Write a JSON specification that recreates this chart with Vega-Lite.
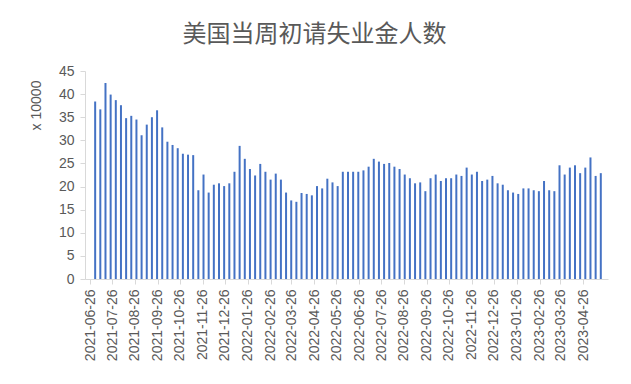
{
  "$schema": "https://vega.github.io/schema/vega-lite/v6.json",
  "width": 523,
  "height": 208,
  "autosize": {"type": "none"},
  "padding": {"left": 85, "top": 71, "right": 23, "bottom": 105},
  "background": "white",
  "title": {
    "text": "美国当周初请失业金人数",
    "font": "Noto Sans CJK SC",
    "fontSize": 24,
    "fontWeight": "normal",
    "color": "#595959",
    "anchor": "middle",
    "frame": "group",
    "baseline": "bottom",
    "dx": -32,
    "offset": -7
  },
  "config": {
    "view": {"stroke": null},
    "axis": {
      "labelFont": "Liberation Sans",
      "titleFont": "Liberation Sans",
      "labelColor": "#595959",
      "titleColor": "#595959",
      "domainColor": "#d9d9d9",
      "tickColor": "#d9d9d9",
      "grid": false
    }
  },
  "data": {
    "values": [
      {"week": "2021-07-03", "claims": 38.4},
      {"week": "2021-07-10", "claims": 36.7},
      {"week": "2021-07-17", "claims": 42.4},
      {"week": "2021-07-24", "claims": 39.9},
      {"week": "2021-07-31", "claims": 38.7},
      {"week": "2021-08-07", "claims": 37.6},
      {"week": "2021-08-14", "claims": 34.8},
      {"week": "2021-08-21", "claims": 35.3},
      {"week": "2021-08-28", "claims": 34.5},
      {"week": "2021-09-04", "claims": 31.1},
      {"week": "2021-09-11", "claims": 33.4},
      {"week": "2021-09-18", "claims": 35.0},
      {"week": "2021-09-25", "claims": 36.5},
      {"week": "2021-10-02", "claims": 32.8},
      {"week": "2021-10-09", "claims": 29.7},
      {"week": "2021-10-16", "claims": 29.0},
      {"week": "2021-10-23", "claims": 28.3},
      {"week": "2021-10-30", "claims": 27.1},
      {"week": "2021-11-06", "claims": 26.9},
      {"week": "2021-11-13", "claims": 26.8},
      {"week": "2021-11-20", "claims": 19.2},
      {"week": "2021-11-27", "claims": 22.6},
      {"week": "2021-12-04", "claims": 18.7},
      {"week": "2021-12-11", "claims": 20.4},
      {"week": "2021-12-18", "claims": 20.7},
      {"week": "2021-12-25", "claims": 20.1},
      {"week": "2022-01-01", "claims": 20.7},
      {"week": "2022-01-08", "claims": 23.2},
      {"week": "2022-01-15", "claims": 28.8},
      {"week": "2022-01-22", "claims": 26.0},
      {"week": "2022-01-29", "claims": 23.8},
      {"week": "2022-02-05", "claims": 22.4},
      {"week": "2022-02-12", "claims": 24.9},
      {"week": "2022-02-19", "claims": 23.2},
      {"week": "2022-02-26", "claims": 21.5},
      {"week": "2022-03-05", "claims": 22.8},
      {"week": "2022-03-12", "claims": 21.5},
      {"week": "2022-03-19", "claims": 18.7},
      {"week": "2022-03-26", "claims": 17.0},
      {"week": "2022-04-02", "claims": 16.7},
      {"week": "2022-04-09", "claims": 18.6},
      {"week": "2022-04-16", "claims": 18.4},
      {"week": "2022-04-23", "claims": 18.1},
      {"week": "2022-04-30", "claims": 20.1},
      {"week": "2022-05-07", "claims": 19.6},
      {"week": "2022-05-14", "claims": 21.7},
      {"week": "2022-05-21", "claims": 20.9},
      {"week": "2022-05-28", "claims": 20.1},
      {"week": "2022-06-04", "claims": 23.2},
      {"week": "2022-06-11", "claims": 23.2},
      {"week": "2022-06-18", "claims": 23.2},
      {"week": "2022-06-25", "claims": 23.2},
      {"week": "2022-07-02", "claims": 23.5},
      {"week": "2022-07-09", "claims": 24.3},
      {"week": "2022-07-16", "claims": 26.0},
      {"week": "2022-07-23", "claims": 25.4},
      {"week": "2022-07-30", "claims": 24.9},
      {"week": "2022-08-06", "claims": 25.1},
      {"week": "2022-08-13", "claims": 24.3},
      {"week": "2022-08-20", "claims": 23.8},
      {"week": "2022-08-27", "claims": 22.6},
      {"week": "2022-09-03", "claims": 21.8},
      {"week": "2022-09-10", "claims": 20.7},
      {"week": "2022-09-17", "claims": 20.9},
      {"week": "2022-09-24", "claims": 19.0},
      {"week": "2022-10-01", "claims": 21.8},
      {"week": "2022-10-08", "claims": 22.6},
      {"week": "2022-10-15", "claims": 21.2},
      {"week": "2022-10-22", "claims": 21.8},
      {"week": "2022-10-29", "claims": 21.8},
      {"week": "2022-11-05", "claims": 22.6},
      {"week": "2022-11-12", "claims": 22.3},
      {"week": "2022-11-19", "claims": 24.1},
      {"week": "2022-11-26", "claims": 22.6},
      {"week": "2022-12-03", "claims": 23.2},
      {"week": "2022-12-10", "claims": 21.2},
      {"week": "2022-12-17", "claims": 21.5},
      {"week": "2022-12-24", "claims": 22.3},
      {"week": "2022-12-31", "claims": 20.7},
      {"week": "2023-01-07", "claims": 20.4},
      {"week": "2023-01-14", "claims": 19.2},
      {"week": "2023-01-21", "claims": 18.7},
      {"week": "2023-01-28", "claims": 18.4},
      {"week": "2023-02-04", "claims": 19.6},
      {"week": "2023-02-11", "claims": 19.6},
      {"week": "2023-02-18", "claims": 19.2},
      {"week": "2023-02-25", "claims": 19.0},
      {"week": "2023-03-04", "claims": 21.2},
      {"week": "2023-03-11", "claims": 19.2},
      {"week": "2023-03-18", "claims": 19.0},
      {"week": "2023-03-25", "claims": 24.6},
      {"week": "2023-04-01", "claims": 22.6},
      {"week": "2023-04-08", "claims": 24.1},
      {"week": "2023-04-15", "claims": 24.6},
      {"week": "2023-04-22", "claims": 22.9},
      {"week": "2023-04-29", "claims": 24.1},
      {"week": "2023-05-06", "claims": 26.3},
      {"week": "2023-05-13", "claims": 22.3},
      {"week": "2023-05-20", "claims": 22.9}
    ]
  },
  "mark": {"type": "bar", "color": "#4472C4", "size": 2},
  "encoding": {
    "x": {
      "field": "week",
      "type": "temporal",
      "scale": {
        "type": "utc",
        "domain": [
          {"year": 2021, "month": 6, "date": 26, "utc": true},
          {"year": 2023, "month": 5, "date": 23, "utc": true}
        ]
      },
      "axis": {
        "title": null,
        "format": "%Y-%m-%d",
        "labelAngle": -90,
        "labelAlign": "right",
        "labelBaseline": "middle",
        "labelFontSize": 14,
        "labelPadding": 5,
        "tickSize": 5,
        "labelOverlap": false,
        "values": [
          {"year": 2021, "month": 6, "date": 26, "utc": true},
          {"year": 2021, "month": 7, "date": 26, "utc": true},
          {"year": 2021, "month": 8, "date": 26, "utc": true},
          {"year": 2021, "month": 9, "date": 26, "utc": true},
          {"year": 2021, "month": 10, "date": 26, "utc": true},
          {"year": 2021, "month": 11, "date": 26, "utc": true},
          {"year": 2021, "month": 12, "date": 26, "utc": true},
          {"year": 2022, "month": 1, "date": 26, "utc": true},
          {"year": 2022, "month": 2, "date": 26, "utc": true},
          {"year": 2022, "month": 3, "date": 26, "utc": true},
          {"year": 2022, "month": 4, "date": 26, "utc": true},
          {"year": 2022, "month": 5, "date": 26, "utc": true},
          {"year": 2022, "month": 6, "date": 26, "utc": true},
          {"year": 2022, "month": 7, "date": 26, "utc": true},
          {"year": 2022, "month": 8, "date": 26, "utc": true},
          {"year": 2022, "month": 9, "date": 26, "utc": true},
          {"year": 2022, "month": 10, "date": 26, "utc": true},
          {"year": 2022, "month": 11, "date": 26, "utc": true},
          {"year": 2022, "month": 12, "date": 26, "utc": true},
          {"year": 2023, "month": 1, "date": 26, "utc": true},
          {"year": 2023, "month": 2, "date": 26, "utc": true},
          {"year": 2023, "month": 3, "date": 26, "utc": true},
          {"year": 2023, "month": 4, "date": 26, "utc": true}
        ]
      }
    },
    "y": {
      "field": "claims",
      "type": "quantitative",
      "scale": {"domain": [0, 45], "nice": false},
      "axis": {
        "title": "x 10000",
        "titleFontSize": 14,
        "titleFontWeight": "normal",
        "titleAngle": -90,
        "titleAlign": "center",
        "titleBaseline": "middle",
        "titleX": -49,
        "titleY": 34,
        "values": [0, 5, 10, 15, 20, 25, 30, 35, 40, 45],
        "labelFontSize": 14,
        "labelPadding": 6,
        "tickSize": 5
      }
    }
  }
}
